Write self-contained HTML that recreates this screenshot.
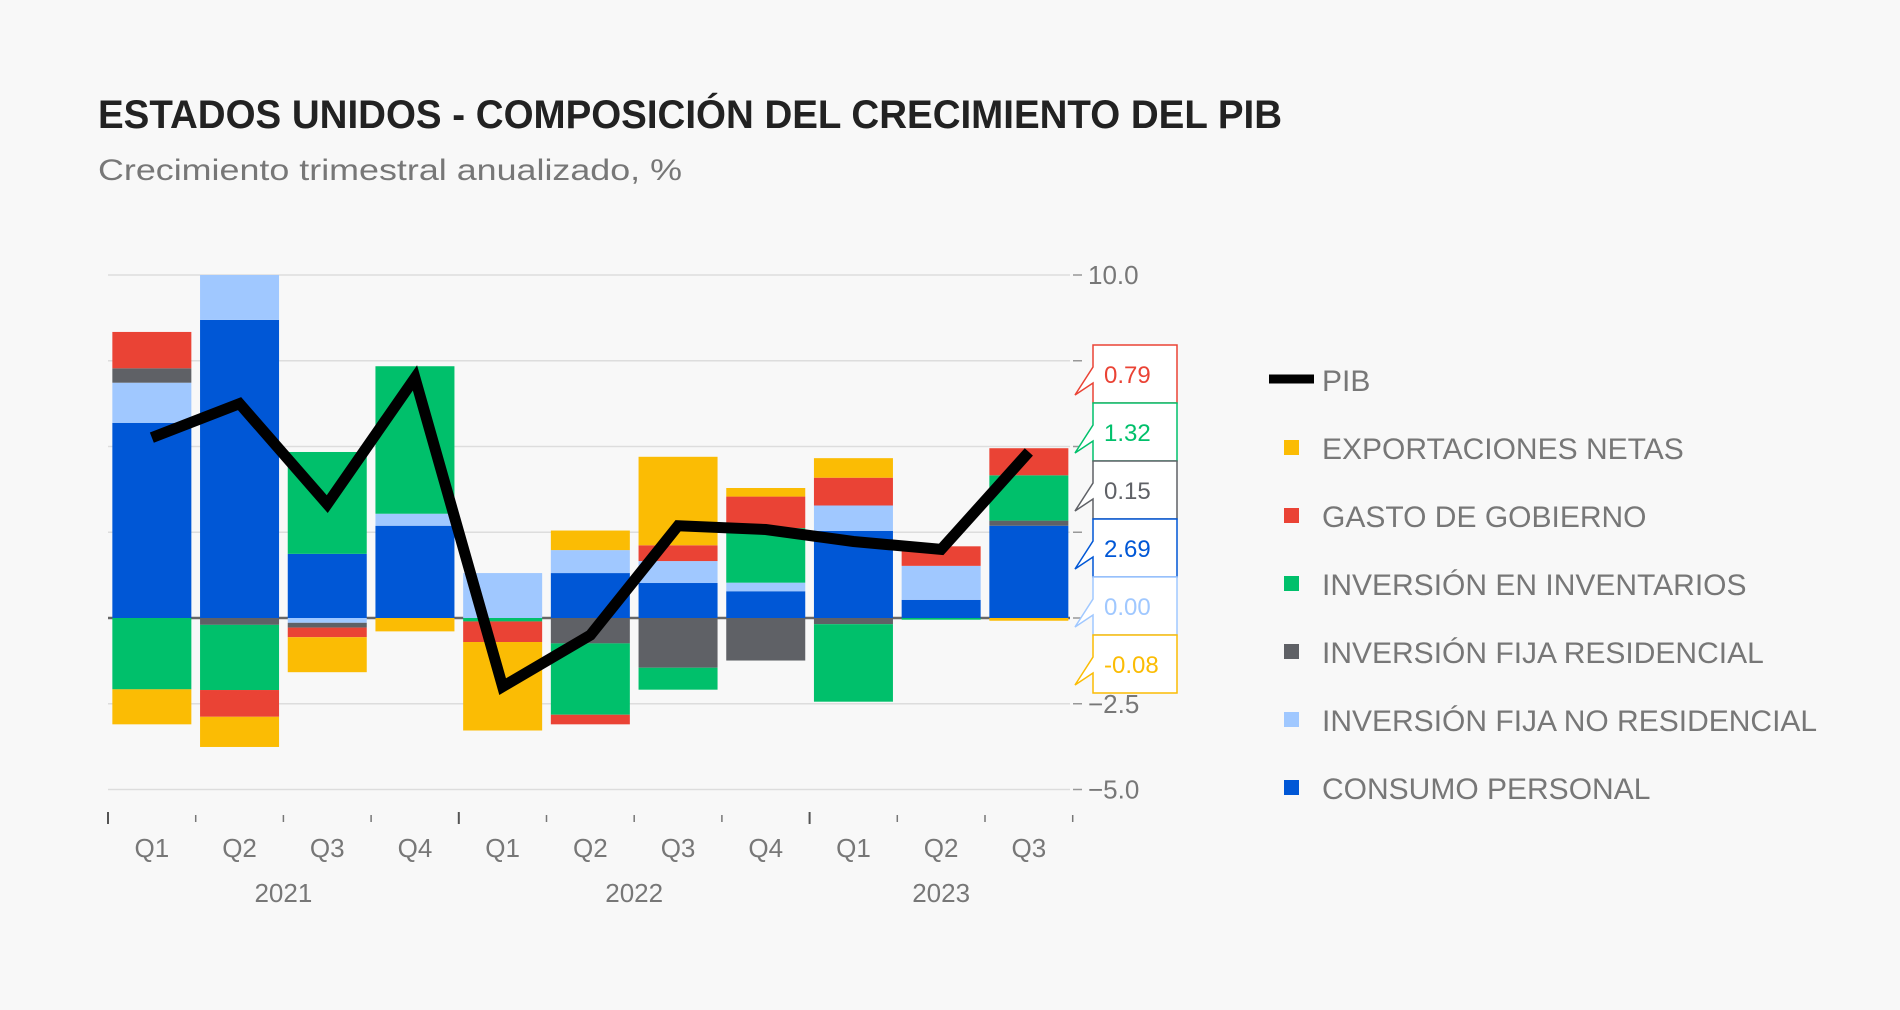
<!DOCTYPE html>
<html><head><meta charset="utf-8"><style>
html,body{margin:0;padding:0;background:#f8f8f8;}
svg{display:block;font-family:"Liberation Sans",sans-serif;}
</style></head><body>
<svg id="chart" width="1900" height="1010" viewBox="0 0 1900 1010">
<rect width="1900" height="1010" fill="#f8f8f8"/>
<text x="98" y="128" font-size="40" font-weight="bold" fill="#222" textLength="1184" lengthAdjust="spacingAndGlyphs">ESTADOS UNIDOS - COMPOSICIÓN DEL CRECIMIENTO DEL PIB</text>
<text x="98" y="180" font-size="30" fill="#777" textLength="584" lengthAdjust="spacingAndGlyphs">Crecimiento trimestral anualizado, %</text>
<g id="grid"></g><g id="bars"></g><g id="line"></g><g id="axes"></g><g id="callouts"></g><g id="legend"></g>
</svg>
<script>
const quarters=["Q1","Q2","Q3","Q4","Q1","Q2","Q3","Q4","Q1","Q2","Q3"];
const years=["2021","2022","2023"];
const yearSpans=[4,4,3];
const seriesNames=["CONSUMO PERSONAL","INVERSIÓN FIJA NO RESIDENCIAL","INVERSIÓN FIJA RESIDENCIAL","INVERSIÓN EN INVENTARIOS","GASTO DE GOBIERNO","EXPORTACIONES NETAS"];
const seriesColors=["#0057d6","#a0c8ff","#5f6166","#00c06b","#ea4335","#fbbc04"];
const consumo=[5.69,8.69,1.87,2.69,0.0,1.31,1.02,0.78,2.54,0.53,2.69];
const noResidencial=[1.17,1.4,-0.14,0.35,1.31,0.67,0.64,0.25,0.74,0.99,0.0];
const residencial=[0.42,-0.2,-0.14,0.0,0.0,-0.74,-1.45,-1.24,-0.18,0.0,0.15];
const inventarios=[-2.08,-1.9,2.97,4.3,-0.1,-2.08,-0.64,1.59,-2.26,-0.05,1.32];
const gobierno=[1.06,-0.78,-0.28,0.0,-0.6,-0.28,0.46,0.92,0.81,0.57,0.79];
const exportaciones=[-1.02,-0.88,-1.02,-0.39,-2.58,0.57,2.58,0.25,0.57,0.0,-0.08];
const pib=[5.26,6.25,3.32,7.0,-2.0,-0.5,2.69,2.58,2.23,2.0,4.84];
const yTicks=[10,7.5,5,2.5,0,-2.5,-5];
const yTickLabels=["10.0","","","","","−2.5","−5.0"];
const series=[consumo,noResidencial,residencial,inventarios,gobierno,exportaciones];
const NS="http://www.w3.org/2000/svg";
const X0=108,STEP=87.7,BW=79,Y0=618,PU=34.3;
const xC=i=>X0+STEP/2+STEP*i;
const yS=v=>Y0-v*PU;
function mk(tag,attrs,parent,txt){const e=document.createElementNS(NS,tag);for(const k in attrs)e.setAttribute(k,attrs[k]);if(txt!==undefined)e.textContent=txt;parent.appendChild(e);return e;}
const G=id=>document.getElementById(id);
yTicks.forEach((t,k)=>{
  const g=mk("line",{x1:X0,x2:1070,y1:yS(t),y2:yS(t),stroke:t===0?"#666":"#ddd","stroke-width":t===0?2.5:1.5},G("grid"));
  
  
  const tk=mk("line",{x1:1073,x2:1082,y1:yS(t),y2:yS(t),stroke:"#999","stroke-width":1.5},G("axes"));
  
  
  if(yTickLabels[k]){const l=mk("text",{x:1088,y:yS(t)+9,"font-size":26,fill:"#777"},G("axes"),yTickLabels[k]);
  
  }
});
quarters.forEach((q,i)=>{
  let pos=0,neg=0;
  series.forEach((s,j)=>{
    const v=s[i];if(!v)return;
    let top,bot;
    if(v>0){bot=pos;pos+=v;top=pos;}else{top=neg;neg+=v;bot=neg;}
    const yt=Math.max(yS(Math.min(top,10)),yS(10));const yb=yS(Math.min(bot,10));
    if(yb-yt<=0)return;
    const r=mk("rect",{x:xC(i)-BW/2,y:yt,width:BW,height:yb-yt,fill:seriesColors[j]},G("bars"));
    
    
  });
  const ql=mk("text",{x:xC(i),y:857,"font-size":26,fill:"#777","text-anchor":"middle"},G("axes"),q);
  
  
});
for(let k=0;k<=quarters.length;k++){
  const tk=mk("line",{x1:X0+STEP*k,x2:X0+STEP*k,y1:815,y2:822,stroke:"#777","stroke-width":1.5},G("axes"));
  
  
}
let acc=0;
years.forEach((y,k)=>{
  const mid=(xC(acc)+xC(acc+yearSpans[k]-1))/2;
  mk("line",{x1:X0+STEP*acc,x2:X0+STEP*acc,y1:812,y2:824,stroke:"#555","stroke-width":2},G("axes"));
  const t=mk("text",{x:mid,y:902,"font-size":26,fill:"#777","text-anchor":"middle"},G("axes"),y);
  
  
  acc+=yearSpans[k];
});
const pts=pib.map((v,i)=>xC(i)+","+yS(v)).join(" ");
const pl=mk("polyline",{points:pts,fill:"none",stroke:"#000","stroke-width":11,"stroke-linejoin":"miter"},G("line"));


const last=quarters.length-1;
const order=[4,3,2,0,1,5];
order.forEach((j,k)=>{
  const top=345+58*k,h=58;
  const col=seriesColors[j];
  const d=`M1093,${top} H1177 V${top+h} H1093 V${top+38} L1075,${top+50} L1093,${top+22} Z`;
  const p=mk("path",{d:d,fill:"#fff",stroke:col,"stroke-width":1.5},G("callouts"));
  
  
  const v=series[j][last];
  const t=mk("text",{x:1104,y:top+38,"font-size":24,fill:col},G("callouts"),(v<0?"-":"")+Math.abs(v).toFixed(2));
  
  
});
const lp=mk("line",{x1:1269,x2:1314,y1:379,y2:379,stroke:"#000","stroke-width":9},G("legend"));


const lt=mk("text",{x:1322,y:391,"font-size":30,fill:"#777"},G("legend"),"PIB");


[5,4,3,2,1,0].forEach((j,k)=>{
  const cy=448+68*k;
  const s=mk("rect",{x:1284,y:cy-8,width:15,height:15,fill:seriesColors[j]},G("legend"));
  
  
  const t=mk("text",{x:1322,y:cy+11,"font-size":30,fill:"#777"},G("legend"),seriesNames[j]);
  
  
});
</script>
</body></html>
